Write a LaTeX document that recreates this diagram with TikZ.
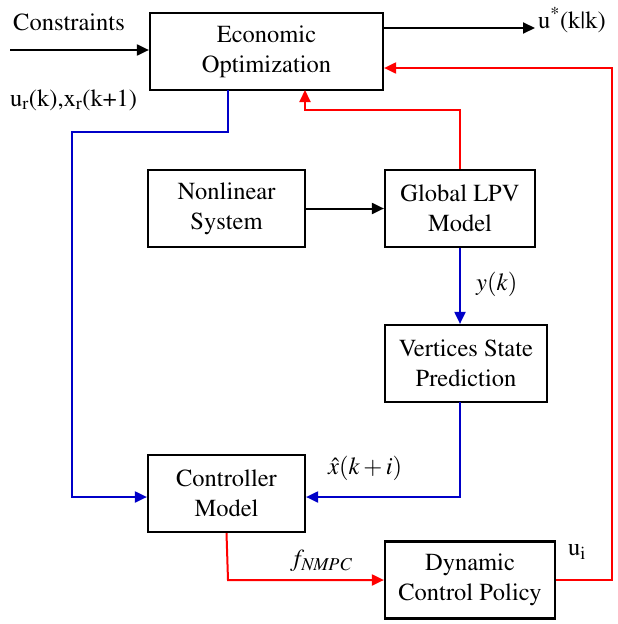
\documentclass[tikz,border=0pt]{standalone}
\usepackage[T1]{fontenc}
\usepackage{mathptmx}
\usetikzlibrary{arrows.meta}
\definecolor{cblue}{RGB}{0,0,200}
\definecolor{cred}{RGB}{255,0,0}
\begin{document}
\begin{tikzpicture}[x=1pt,y=-1pt,
  blk/.style={draw,line width=2.2pt,minimum width=#1,minimum height=77pt,inner sep=0pt,align=center,font=\fontsize{24.5}{30}\selectfont},
  lbl/.style={inner sep=0pt,font=\fontsize{24.5}{26}\selectfont},
  con/.style={line width=2pt,-{Triangle[length=12pt,width=11pt]}},
  bl/.style={con,draw=cblue},
  rd/.style={con,draw=cred}]
\useasboundingbox (0,0) rectangle (618,624);
\node[blk=233pt] (eco) at (266.5,51.5) {Economic\\Optimization};
\node[blk=157pt] (nls) at (226.5,208.5) {Nonlinear\\System};
\node[blk=150pt] (lpv) at (460,208.5) {Global LPV\\Model};
\node[blk=162pt] (vsp) at (466,363.5) {Vertices State\\Prediction};
\node[blk=157pt] (ctl) at (226.5,493.5) {Controller\\Model};
\node[blk=170pt] (dcp) at (470,580) {Dynamic\\Control Policy};
\node[lbl,anchor=west] (tcon) at (13,22) {Constraints};
\node[lbl,anchor=west] (tu) at (538,20) {u\textsuperscript{*}(k|k)};
\node[lbl,anchor=west] (tur) at (10,100) {u\textsubscript{r}(k),x\textsubscript{r}(k+1)};
\node[lbl,anchor=west] (tyk) at (476,284) {$y(k)$};
\node[lbl,anchor=west] (txh) at (328,468) {$\hat{x}(k+i)$};
\node[lbl,anchor=west] (tf) at (290,561) {$f_{\mathit{NMPC}}$};
\node[lbl,anchor=west] (tui) at (568,552) {u\textsubscript{i}};
\coordinate (cin) at (10,50);
\coordinate (uout) at (535,28);
\draw[con] (cin) -- (cin -| eco.west);
\draw[con] (eco.east |- uout) -- (uout);
\draw[bl] (228,90) -- (228,132) -- (72,132) -- (72,497) -- (ctl.west |- 0,497);
\draw[rd] (lpv.north) -- (460,110) -- (305,110) -- (305,90);
\draw[con] (nls.east) -- (lpv.west);
\draw[bl] (lpv.south) -- (vsp.north -| lpv.south);
\draw[bl] (460,402) -- (460,497) -- (ctl.east |- 0,497);
\draw[rd] (ctl.south) -- (228,580) -- (dcp.west);
\draw[rd] (dcp.east) -- (612,580) -- (612,68) -- (eco.east |- 0,68);
\end{tikzpicture}
\end{document}
